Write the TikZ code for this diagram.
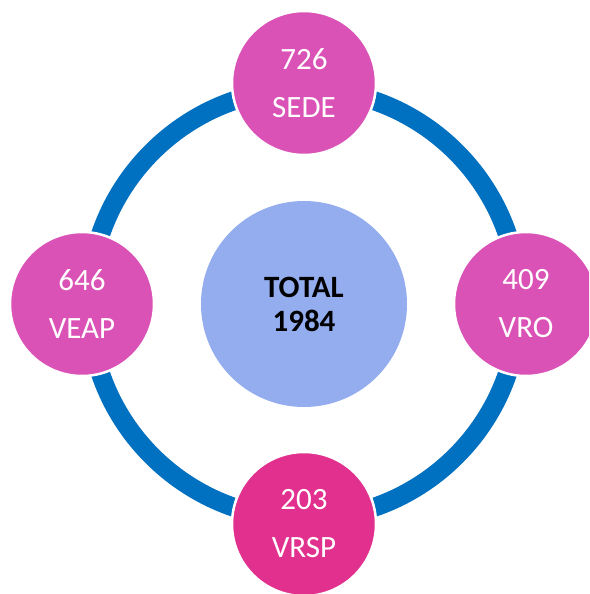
\documentclass[tikz,border=0pt]{standalone}
\usepackage{fontspec}
\setmainfont{Carlito}
\definecolor{ringblue}{HTML}{0070C0}
\definecolor{pinkA}{HTML}{DB52B6}
\definecolor{pinkB}{HTML}{E2308F}
\definecolor{centerblue}{HTML}{93ADEF}
\begin{document}
\begin{tikzpicture}[x=1pt,y=-1pt,
  satellite/.style={circle, draw=white, line width=2.5pt, minimum size=144pt, inner sep=0pt,
     text=white, align=center, font=\fontsize{31}{48}\selectfont},
  hub/.style={circle, fill=centerblue, minimum size=206pt, inner sep=0pt,
     text=black, align=center, font=\fontsize{31}{34}\selectfont\bfseries}]
\clip (0,0) rectangle (589,594);
\fill[white] (0,0) rectangle (589,594);
\coordinate (c) at (304,304);
\draw[ringblue, line width=19pt] (c) circle[radius=215pt];
\node[hub] (total) at (c) {TOTAL\\1984};
\node[satellite, fill=pinkA] (sede) at (304,83) {726\\SEDE};
\node[satellite, fill=pinkA] (veap) at (82,304) {646\\VEAP};
\node[satellite, fill=pinkA] (vro) at (526,304) {409\\VRO};
\node[satellite, fill=pinkB] (vrsp) at (304,524) {203\\VRSP};
\end{tikzpicture}
\end{document}
